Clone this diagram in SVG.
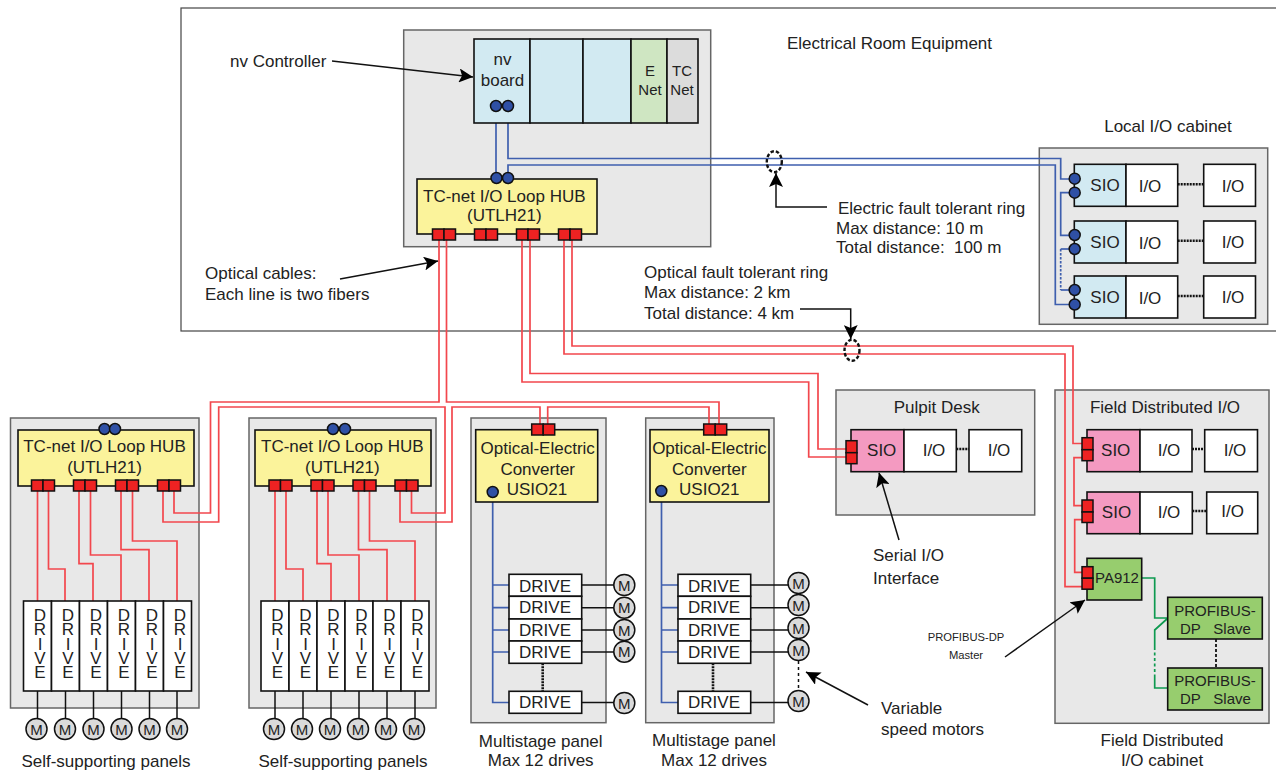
<svg xmlns="http://www.w3.org/2000/svg" width="1276" height="772" viewBox="0 0 1276 772">
<defs>
<marker id="ah" markerUnits="userSpaceOnUse" markerWidth="15" markerHeight="14" refX="14" refY="7" orient="auto"><path d="M0,0 L14,7 L0,14 L3,7 Z" fill="#000"/></marker>
</defs>
<style>
text{font-family:"Liberation Sans",Arial,sans-serif;font-size:17px;fill:#222}
.m{text-anchor:middle}
.s15{font-size:15px}
.s12{font-size:11.2px}
.vd{writing-mode:vertical-rl;text-orientation:upright;letter-spacing:-4.7px}
.pn{fill:#e8e8e8;stroke:#666;stroke-width:1.5}
.fr{fill:none;stroke:#444;stroke-width:1.2}
.b{stroke:#111;stroke-width:1.6}
.w{fill:#fff}.y{fill:#fbf39b}.c{fill:#d2eaf2}.p{fill:#f49ac1}.g{fill:#97cd6e}
.rb{fill:#ee2222;stroke:#111;stroke-width:1.5}
.dot{fill:#2f50a5;stroke:#111;stroke-width:1.5}
.mo{fill:#dadada;stroke:#111;stroke-width:1.5}
.r{fill:none;stroke:#f2474d;stroke-width:1.7}
.bl{fill:none;stroke:#3f5fae;stroke-width:1.7}
.gr{fill:none;stroke:#0e9a50;stroke-width:1.7}
.k{fill:none;stroke:#111;stroke-width:1.5}
.d{fill:none;stroke:#111;stroke-width:2.6;stroke-dasharray:2 1}
.d2{fill:none;stroke:#111;stroke-width:1.8;stroke-dasharray:3 2}
.a{fill:none;stroke:#111;stroke-width:1.5;marker-end:url(#ah)}
.el{fill:none;stroke:#111;stroke-width:2.4;stroke-dasharray:3.500 2}
</style>

<g id="panels">
<rect id="room" class="fr" x="181" y="8" width="1096" height="323"/>
<rect id="controller-box" class="pn" x="403.700" y="30" width="307" height="216.700"/>
<rect id="local-box" class="pn" x="1039.300" y="148" width="228.400" height="176.300"/>
<rect id="panel1" class="pn" x="10.500" y="418" width="188.500" height="290"/>
<rect id="panel2" class="pn" x="249" y="418" width="187" height="290"/>
<rect id="panel3" class="pn" x="471" y="418" width="135" height="304.700"/>
<rect id="panel4" class="pn" x="645.700" y="418" width="128.300" height="304.700"/>
<rect id="pulpit-box" class="pn" x="836" y="390" width="198.700" height="125"/>
<rect id="field-box" class="pn" x="1055" y="390" width="214" height="333.300"/>
</g>

<g id="connectors">
<path class="bl" d="M496,106V178"/>
<path class="bl" d="M508,106V158.500H1060.700V179H1074"/>
<path class="bl" d="M508,178V165H1055.300V304.500H1074"/>
<path class="bl" d="M1074,192.700H1060.700V235.300H1074"/>
<path class="bl" d="M1074,249H1060.700" />
<path class="bl" stroke-dasharray="2.500 1.500" d="M1060.700,249V290"/>
<path class="bl" d="M1060.700,290H1074"/>
<path class="r" d="M439,240V402H210.500V513H174V491"/>
<path class="r" d="M163,491V522H218.700V407H445V513H411.500V491"/>
<path class="r" d="M400,491V522H452V407H540V424"/>
<path class="r" d="M446.500,240V402H719V424"/>
<path class="r" d="M547.700,424V407H709V424"/>
<path class="r" d="M522,240V382H808.700V457H846"/>
<path class="r" d="M530,240V373.500H818V449H846"/>
<path class="r" d="M564,240V354H1065V586.700H1082"/>
<path class="r" d="M572,240V346H1073V443.500H1082"/>
<path class="r" d="M1082,457.700H1074V505.700H1082"/>
<path class="r" d="M1082,519.700H1074.700V572.300H1082"/>
<path class="r" d="M37.500,491V601"/>
<path class="r" d="M48.500,491V569H65V601"/>
<path class="r" d="M79,491V563.700H93V601"/>
<path class="r" d="M90.500,491V555H121V601"/>
<path class="r" d="M121,491V549.700H149V601"/>
<path class="r" d="M132.500,491V541H177V601"/>
<path class="r" d="M275,491V601"/>
<path class="r" d="M286,491V569H303V601"/>
<path class="r" d="M317,491V563.700H331V601"/>
<path class="r" d="M328,491V555H359V601"/>
<path class="r" d="M358.500,491V549.700H387V601"/>
<path class="r" d="M369.500,491V541H415V601"/>
<path class="bl" d="M492.700,492V702.500H509M492.700,585H509M492.700,607.700H509M492.700,630H509M492.700,652H509"/>
<path class="bl" d="M661.500,491V702.500H678M661.500,585H678M661.500,607.700H678M661.500,630H678M661.500,652H678"/>
<path class="k" d="M37.500,691V718M65.500,691V718M93.500,691V718M121.500,691V718M149.500,691V718M177,691V718"/>
<path class="k" d="M275,691V718M303,691V718M331,691V718M359,691V718M387,691V718M415,691V718"/>
<path class="k" d="M581.700,585H614M581.700,607.700H614M581.700,630H614M581.700,652H614M581.700,702.500H614"/>
<path class="k" d="M750.700,585H788M750.700,607.700H788M750.700,630H788M750.700,652H788M750.700,702.500H788"/>
<path class="d" d="M542.700,663.300V691.300M713,663.300V691.300"/>
<path class="k" stroke-dasharray="3 3" d="M798.500,661V690"/>
<path class="d" d="M1177.700,184.300H1203.700M1177.700,240.700H1203.700M1177.700,296H1203.700"/>
<path class="d" d="M956.300,449H969M1192,449H1204.700M1192.300,511H1206.700"/>
<path class="gr" d="M1142,578H1154.700V618H1168L1154.700,630V647"/>
<path class="gr" stroke-dasharray="3 2.500" d="M1154.700,647V677"/>
<path class="gr" d="M1154.700,677V688H1168"/>
<path class="d2" d="M1216,639V668"/>
<path class="a" d="M332,61L473,77"/>
<path class="a" d="M340,279L438,261"/>
<path class="a" d="M827,207H776V173"/>
<path class="a" d="M800,309H850.700V339"/>
<path class="a" d="M899,540L879,472.700"/>
<path class="a" d="M1005,657L1085,600"/>
<path class="a" d="M868,705L806,672"/>
<ellipse class="el" cx="774.300" cy="161.700" rx="7.500" ry="10.500"/>
<ellipse class="el" cx="852" cy="350.300" rx="7.500" ry="10.500"/>
</g>

<g id="rack">
<rect class="c b" x="474" y="39" width="56" height="84"/>
<rect class="c b" x="530" y="39" width="53" height="84"/>
<rect class="c b" x="583" y="39" width="48" height="84"/>
<rect fill="#cfe6c2" class="b" x="631" y="39" width="36" height="84"/>
<rect fill="#dcdcdc" class="b" x="667" y="39" width="31" height="84"/>
<text class="m" x="502.500" y="65">nv</text><text class="m" x="502.500" y="85.700">board</text>
<text class="m s15" x="650" y="75.700">E</text><text class="m s15" x="650" y="95">Net</text>
<text class="m s15" x="682" y="75.700">TC</text><text class="m s15" x="682" y="95">Net</text>
<circle class="dot" cx="496" cy="106" r="5.500"/><circle class="dot" cx="508" cy="106" r="5.500"/>
</g>

<g id="hub-main">
<rect class="y b" x="417" y="179" width="180" height="55"/>
<circle class="dot" cx="496.500" cy="178" r="5.500"/><circle class="dot" cx="508" cy="178" r="5.500"/>
<text class="m" x="504.300" y="201.700">TC-net I/O Loop HUB</text><text class="m" x="504.300" y="221">(UTLH21)</text>
<rect class="rb" x="432.500" y="229" width="11.500" height="11"/><rect class="rb" x="444" y="229" width="11.500" height="11"/>
<rect class="rb" x="474.500" y="229" width="11.500" height="11"/><rect class="rb" x="486" y="229" width="11.500" height="11"/>
<rect class="rb" x="516.500" y="229" width="11.500" height="11"/><rect class="rb" x="528" y="229" width="11.500" height="11"/>
<rect class="rb" x="558.500" y="229" width="11.500" height="11"/><rect class="rb" x="570" y="229" width="11.500" height="11"/>
</g>

<g id="hub-left">
<rect class="y b" x="18" y="430" width="176" height="56"/>
<circle class="dot" cx="104.500" cy="429" r="5.500"/><circle class="dot" cx="115" cy="429" r="5.500"/>
<text class="m" x="104.500" y="451.700">TC-net I/O Loop HUB</text><text class="m" x="104.500" y="472.700">(UTLH21)</text>
<rect class="rb" x="31.500" y="480" width="11.500" height="11"/><rect class="rb" x="43" y="480" width="11.500" height="11"/>
<rect class="rb" x="73.500" y="480" width="11.500" height="11"/><rect class="rb" x="85" y="480" width="11.500" height="11"/>
<rect class="rb" x="115.500" y="480" width="11.500" height="11"/><rect class="rb" x="127" y="480" width="11.500" height="11"/>
<rect class="rb" x="157.500" y="480" width="11.500" height="11"/><rect class="rb" x="169" y="480" width="11.500" height="11"/>
</g>

<g id="hub-right">
<rect class="y b" x="255" y="430" width="176" height="56"/>
<circle class="dot" cx="333" cy="429" r="5.500"/><circle class="dot" cx="345" cy="429" r="5.500"/>
<text class="m" x="342.300" y="451.700">TC-net I/O Loop HUB</text><text class="m" x="342.300" y="472.700">(UTLH21)</text>
<rect class="rb" x="269" y="480" width="11.500" height="11"/><rect class="rb" x="280.500" y="480" width="11.500" height="11"/>
<rect class="rb" x="311" y="480" width="11.500" height="11"/><rect class="rb" x="322.500" y="480" width="11.500" height="11"/>
<rect class="rb" x="353" y="480" width="11.500" height="11"/><rect class="rb" x="364.500" y="480" width="11.500" height="11"/>
<rect class="rb" x="395" y="480" width="11.500" height="11"/><rect class="rb" x="406.500" y="480" width="11.500" height="11"/>
</g>

<g id="drives-left">
<rect class="w b" x="23.500" y="601" width="28" height="90"/><rect class="w b" x="51.500" y="601" width="28" height="90"/><rect class="w b" x="79.500" y="601" width="28" height="90"/><rect class="w b" x="107.500" y="601" width="28" height="90"/><rect class="w b" x="135.500" y="601" width="28" height="90"/><rect class="w b" x="163.500" y="601" width="28" height="90"/>
<text class="vd" x="40" y="606">DRIVE</text>
<text class="vd" x="68" y="606">DRIVE</text>
<text class="vd" x="96" y="606">DRIVE</text>
<text class="vd" x="124" y="606">DRIVE</text>
<text class="vd" x="152" y="606">DRIVE</text>
<text class="vd" x="180" y="606">DRIVE</text>
</g>

<g id="drives-right">
<rect class="w b" x="261" y="601" width="28" height="90"/><rect class="w b" x="289" y="601" width="28" height="90"/><rect class="w b" x="317" y="601" width="28" height="90"/><rect class="w b" x="345" y="601" width="28" height="90"/><rect class="w b" x="373" y="601" width="28" height="90"/><rect class="w b" x="401" y="601" width="28" height="90"/>
<text class="vd" x="277.500" y="606">DRIVE</text>
<text class="vd" x="305.500" y="606">DRIVE</text>
<text class="vd" x="333.500" y="606">DRIVE</text>
<text class="vd" x="361.500" y="606">DRIVE</text>
<text class="vd" x="389.500" y="606">DRIVE</text>
<text class="vd" x="417.500" y="606">DRIVE</text>
</g>

<g id="motors-left">
<circle class="mo" cx="36.500" cy="729" r="10.500"/><text class="m s15" x="36.500" y="734.500">M</text>
<circle class="mo" cx="65" cy="729" r="10.500"/><text class="m s15" x="65" y="734.500">M</text>
<circle class="mo" cx="93.500" cy="729" r="10.500"/><text class="m s15" x="93.500" y="734.500">M</text>
<circle class="mo" cx="121.500" cy="729" r="10.500"/><text class="m s15" x="121.500" y="734.500">M</text>
<circle class="mo" cx="149.500" cy="729" r="10.500"/><text class="m s15" x="149.500" y="734.500">M</text>
<circle class="mo" cx="177" cy="729" r="10.500"/><text class="m s15" x="177" y="734.500">M</text>
</g>
<g id="motors-right">
<circle class="mo" cx="274" cy="729" r="10.500"/><text class="m s15" x="274" y="734.500">M</text>
<circle class="mo" cx="302" cy="729" r="10.500"/><text class="m s15" x="302" y="734.500">M</text>
<circle class="mo" cx="330" cy="729" r="10.500"/><text class="m s15" x="330" y="734.500">M</text>
<circle class="mo" cx="358" cy="729" r="10.500"/><text class="m s15" x="358" y="734.500">M</text>
<circle class="mo" cx="386" cy="729" r="10.500"/><text class="m s15" x="386" y="734.500">M</text>
<circle class="mo" cx="414" cy="729" r="10.500"/><text class="m s15" x="414" y="734.500">M</text>
</g>

<g id="converter-a">
<rect class="y b" x="475.700" y="429.700" width="122" height="72.300"/>
<rect class="rb" x="531.700" y="424" width="11.500" height="11"/><rect class="rb" x="543.200" y="424" width="11.500" height="11"/>
<circle class="dot" cx="492.700" cy="492" r="5.500"/>
<text class="m" x="537.700" y="454">Optical-Electric</text><text class="m" x="537.700" y="475">Converter</text><text class="m" x="537" y="495">USIO21</text>
</g>
<g id="converter-b">
<rect class="y b" x="650" y="429.700" width="119" height="72.300"/>
<rect class="rb" x="703.700" y="424" width="11.500" height="11"/><rect class="rb" x="715.200" y="424" width="11.500" height="11"/>
<circle class="dot" cx="661.300" cy="491" r="5.500"/>
<text class="m" x="709.300" y="454">Optical-Electric</text><text class="m" x="709.300" y="475">Converter</text><text class="m" x="709.300" y="495">USIO21</text>
</g>

<g id="multistage-a">
<rect class="w b" x="509" y="574.300" width="72.700" height="22"/><rect class="w b" x="509" y="596.300" width="72.700" height="22.700"/><rect class="w b" x="509" y="619" width="72.700" height="22"/><rect class="w b" x="509" y="641" width="72.700" height="22.300"/><rect class="w b" x="509" y="691.300" width="72.700" height="22"/>
<text class="m" x="545" y="591.700">DRIVE</text><text class="m" x="545" y="613.300">DRIVE</text><text class="m" x="545" y="635.700">DRIVE</text><text class="m" x="545" y="657.700">DRIVE</text><text class="m" x="545" y="707.700">DRIVE</text>
<circle class="mo" cx="624.300" cy="585" r="10.500"/><text class="m s15" x="624.300" y="590.500">M</text>
<circle class="mo" cx="624.300" cy="607.700" r="10.500"/><text class="m s15" x="624.300" y="613">M</text>
<circle class="mo" cx="624.300" cy="630" r="10.500"/><text class="m s15" x="624.300" y="635.500">M</text>
<circle class="mo" cx="624.300" cy="651.700" r="10.500"/><text class="m s15" x="624.300" y="657">M</text>
<circle class="mo" cx="624.300" cy="703" r="10.500"/><text class="m s15" x="624.300" y="708.500">M</text>
</g>
<g id="multistage-b">
<rect class="w b" x="678" y="574.300" width="72.700" height="22"/><rect class="w b" x="678" y="596.300" width="72.700" height="22.700"/><rect class="w b" x="678" y="619" width="72.700" height="22"/><rect class="w b" x="678" y="641" width="72.700" height="22.300"/><rect class="w b" x="678" y="691.300" width="72.700" height="22"/>
<text class="m" x="714" y="591.700">DRIVE</text><text class="m" x="714" y="613.300">DRIVE</text><text class="m" x="714" y="635.700">DRIVE</text><text class="m" x="714" y="657.700">DRIVE</text><text class="m" x="714" y="707.700">DRIVE</text>
<circle class="mo" cx="798.500" cy="583" r="10.500"/><text class="m s15" x="798.500" y="588.500">M</text>
<circle class="mo" cx="798.500" cy="605" r="10.500"/><text class="m s15" x="798.500" y="610.500">M</text>
<circle class="mo" cx="798.500" cy="628" r="10.500"/><text class="m s15" x="798.500" y="633.500">M</text>
<circle class="mo" cx="798.500" cy="650" r="10.500"/><text class="m s15" x="798.500" y="655.500">M</text>
<circle class="mo" cx="798.500" cy="701" r="10.500"/><text class="m s15" x="798.500" y="706.500">M</text>
</g>

<g id="local-row1">
<rect class="c b" x="1074.300" y="164.300" width="51.700" height="42"/><rect class="w b" x="1126" y="164.300" width="51.700" height="42"/><rect class="w b" x="1203.700" y="164.300" width="51.800" height="42"/>
<circle class="dot" cx="1074.700" cy="178.700" r="5.500"/><circle class="dot" cx="1074.700" cy="192.700" r="5.500"/>
<text class="m" x="1105" y="191">SIO</text><text class="m" x="1150" y="191.500">I/O</text><text class="m" x="1233" y="191.500">I/O</text>
</g>
<g id="local-row2">
<rect class="c b" x="1074.300" y="221" width="51.700" height="42"/><rect class="w b" x="1126" y="221" width="51.700" height="42"/><rect class="w b" x="1203.700" y="221" width="51.800" height="42"/>
<circle class="dot" cx="1074.700" cy="235" r="5.500"/><circle class="dot" cx="1074.700" cy="249" r="5.500"/>
<text class="m" x="1105" y="247.500">SIO</text><text class="m" x="1150" y="248.500">I/O</text><text class="m" x="1233" y="247.500">I/O</text>
</g>
<g id="local-row3">
<rect class="c b" x="1074.300" y="276" width="51.700" height="42"/><rect class="w b" x="1126" y="276" width="51.700" height="42"/><rect class="w b" x="1203.700" y="276" width="51.800" height="42"/>
<circle class="dot" cx="1074.700" cy="290" r="5.500"/><circle class="dot" cx="1074.700" cy="304.500" r="5.500"/>
<text class="m" x="1105" y="302.500">SIO</text><text class="m" x="1150" y="303.500">I/O</text><text class="m" x="1233" y="302.500">I/O</text>
</g>

<g id="pulpit-desk">
<rect class="p b" x="851" y="429.700" width="53" height="42"/><rect class="w b" x="904" y="429.700" width="52.300" height="42"/><rect class="w b" x="969" y="429.700" width="52.700" height="42"/>
<rect class="rb" x="846" y="440.700" width="11" height="12"/><rect class="rb" x="846" y="452.700" width="11" height="11"/>
<text class="m" x="936.700" y="413">Pulpit Desk</text>
<text class="m" x="881.700" y="455.700">SIO</text><text class="m" x="934" y="455.700">I/O</text><text class="m" x="999" y="455.700">I/O</text>
</g>

<g id="field-sio1">
<rect class="p b" x="1087" y="429.700" width="53" height="42"/><rect class="w b" x="1140" y="429.700" width="52" height="42"/><rect class="w b" x="1204.700" y="429.700" width="52.800" height="42"/>
<rect class="rb" x="1082" y="437.700" width="11" height="12"/><rect class="rb" x="1082" y="449.700" width="11" height="11"/>
<text class="m" x="1115.700" y="456">SIO</text><text class="m" x="1169" y="456">I/O</text><text class="m" x="1235" y="456">I/O</text>
</g>
<g id="field-sio2">
<rect class="p b" x="1087" y="492" width="53" height="41.700"/><rect class="w b" x="1140" y="492" width="52.300" height="41.700"/><rect class="w b" x="1206.700" y="492" width="51" height="41.700"/>
<rect class="rb" x="1082" y="500" width="11" height="12"/><rect class="rb" x="1082" y="512" width="11" height="10.500"/>
<text class="m" x="1116.500" y="518">SIO</text><text class="m" x="1169" y="518">I/O</text><text class="m" x="1232.700" y="517">I/O</text>
</g>
<g id="pa912">
<rect class="g b" x="1087" y="558.300" width="54.700" height="41.700"/>
<rect class="rb" x="1082" y="566.700" width="11" height="11.500"/><rect class="rb" x="1082" y="578.200" width="11" height="11"/>
<text class="m s15" x="1117" y="583">PA912</text>
</g>
<g id="slave1">
<rect class="g b" x="1167.700" y="597.300" width="94.600" height="41.700"/>
<text class="m s15" x="1215" y="616">PROFIBUS-</text><text class="s15" x="1180" y="634">DP</text><text class="s15" x="1213.300" y="634">Slave</text>
</g>
<g id="slave2">
<rect class="g b" x="1167.700" y="668" width="94.600" height="42"/>
<text class="m s15" x="1215" y="686">PROFIBUS-</text><text class="s15" x="1180" y="704">DP</text><text class="s15" x="1213.300" y="704">Slave</text>
</g>

<g id="labels">
<text x="787" y="49">Electrical Room Equipment</text>
<text x="230" y="67">nv Controller</text>
<text class="m" x="1168" y="132">Local I/O cabinet</text>
<text x="838" y="214">Electric fault tolerant ring</text>
<text x="836" y="234">Max distance: 10 m</text>
<text x="836" y="253" xml:space="preserve">Total distance:  100 m</text>
<text x="205" y="279">Optical cables:</text>
<text x="205" y="300">Each line is two fibers</text>
<text x="644" y="278">Optical fault tolerant ring</text>
<text x="644" y="298">Max distance: 2 km</text>
<text x="644" y="319">Total distance: 4 km</text>
<text class="m" x="1165" y="412.700">Field Distributed I/O</text>
<text x="873" y="561">Serial I/O</text>
<text x="873" y="584">Interface</text>
<text class="m s12" x="966" y="641">PROFIBUS-DP</text>
<text class="m s12" x="966" y="659">Master</text>
<text x="881" y="714">Variable</text>
<text x="881" y="735">speed motors</text>
<text class="m" x="106" y="767">Self-supporting panels</text>
<text class="m" x="343" y="767">Self-supporting panels</text>
<text class="m" x="540.700" y="746.700">Multistage panel</text>
<text class="m" x="540.700" y="766">Max 12 drives</text>
<text class="m" x="714" y="746">Multistage panel</text>
<text class="m" x="714" y="766">Max 12 drives</text>
<text class="m" x="1162" y="746">Field Distributed</text>
<text class="m" x="1162" y="766">I/O cabinet</text>
</g>
</svg>
